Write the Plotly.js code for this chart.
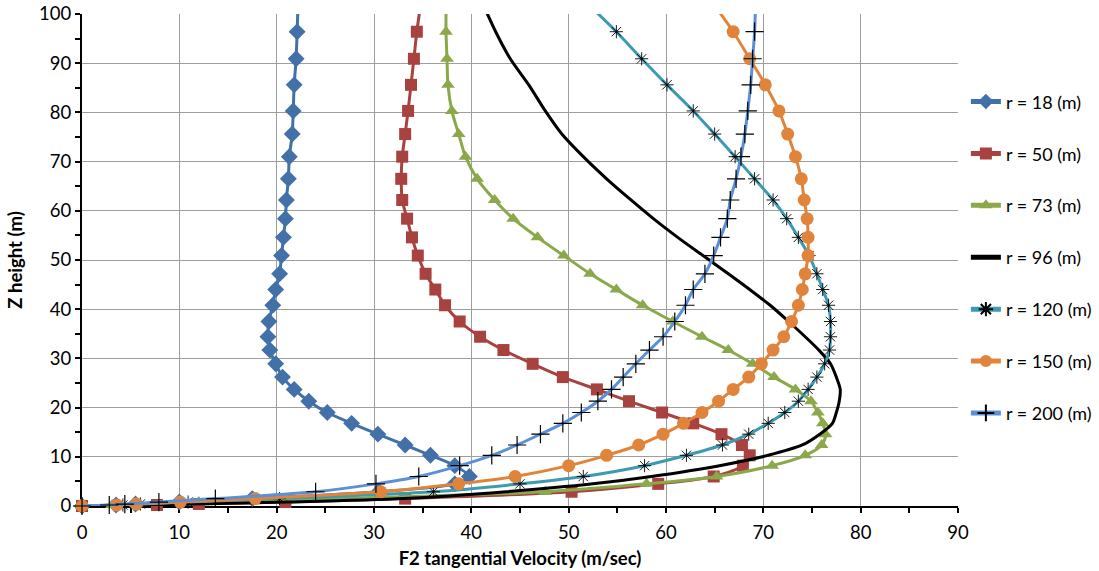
<!DOCTYPE html>
<html>
<head>
<meta charset="utf-8">
<script src="https://cdn.plot.ly/plotly-3.0.1.min.js"></script>
<style>
html,body{margin:0;padding:0;background:#fff;}
#chart{width:1099px;height:571px;}
</style>
</head>
<body>
<div id="chart"></div>
<script>
// Z levels (m) shared by all series (last level lies above the axis range, line only)
const zLevels = [0, 0.2, 0.4, 0.8, 1.5, 2.9, 4.5, 6.0, 8.2, 10.3, 12.4, 14.6, 16.8, 19.0, 21.3, 23.7, 26.2, 28.9, 31.7, 34.4, 37.5, 40.8, 44.0, 47.2, 50.9, 54.6, 58.4, 62.2, 66.5, 71.0, 75.6, 80.3, 85.6, 90.9, 96.4, 102];

// F2 tangential velocity (m/sec) per radius
const vR18  = [0, 3.5, 5.5, 10, 17.5, 30.5, 38.3, 39.8, 38.3, 35.8, 33.2, 30.4, 27.7, 25.2, 23.3, 21.8, 20.6, 19.9, 19.3, 19.1, 19.2, 19.6, 19.9, 20.3, 20.5, 20.7, 20.9, 21.0, 21.2, 21.3, 21.6, 21.7, 21.8, 22.0, 22.1, 22.2];
const vR50  = [0, 7.7, 12.0, 20.9, 33.2, 50.3, 59.2, 64.9, 67.9, 68.6, 67.8, 65.7, 62.8, 59.6, 56.2, 52.9, 49.4, 46.3, 43.3, 40.9, 38.8, 37.3, 36.3, 35.3, 34.5, 33.9, 33.4, 32.9, 32.8, 32.9, 33.2, 33.5, 33.8, 34.1, 34.4, 34.8];
const vR73  = [0, 3.1, 5.6, 12.0, 26.6, 47.6, 58.0, 65.2, 70.9, 74.3, 76.0, 76.4, 76.1, 75.6, 74.9, 73.3, 71.1, 68.9, 66.4, 63.7, 60.7, 57.6, 54.9, 52.2, 49.5, 46.8, 44.3, 42.4, 40.6, 39.4, 38.7, 38.0, 37.6, 37.5, 37.4, 37.4];
const vR96  = [0, 6, 11, 21, 33, 43.6, 52.5, 58.5, 65.5, 70.5, 74.0, 75.8, 77.1, 77.5, 77.8, 77.9, 77.5, 76.9, 75.7, 74.3, 72.6, 70.7, 68.6, 66.4, 63.8, 61.2, 58.7, 56.4, 53.9, 51.5, 49.3, 47.6, 45.9, 44.0, 42.5, 41.2];
const vR120 = [0, 4.2, 6.0, 10.9, 20.3, 36.1, 45.0, 51.5, 57.8, 62.1, 65.8, 68.5, 70.5, 72.2, 73.6, 74.6, 75.5, 76.3, 76.8, 76.9, 76.9, 76.7, 76.1, 75.5, 74.7, 73.6, 72.4, 71.0, 69.1, 67.1, 65.0, 62.8, 60.1, 57.5, 54.9, 52.0];
const vR150 = [0, 3.6, 5.6, 10.1, 17.8, 30.7, 38.7, 44.5, 50.0, 53.9, 57.2, 59.7, 61.8, 63.7, 65.4, 66.9, 68.5, 69.8, 71.0, 72.1, 72.9, 73.6, 74.0, 74.3, 74.6, 74.6, 74.5, 74.2, 73.9, 73.3, 72.5, 71.6, 70.2, 68.6, 66.9, 64.9];
const vR200 = [0, 2.8, 4.4, 7.9, 13.7, 24.0, 30.2, 34.6, 38.8, 42.1, 44.7, 47.1, 49.4, 51.3, 53.0, 54.4, 55.6, 56.9, 58.3, 59.7, 60.9, 62.0, 62.8, 64.0, 64.9, 65.6, 66.3, 66.6, 67.2, 67.7, 68.1, 68.4, 68.7, 68.9, 69.1, 69.2];

const seriesNames = ['r = 18 (m)', 'r = 50 (m)', 'r = 73 (m)', 'r = 96 (m)', 'r = 120 (m)', 'r = 150 (m)', 'r = 200 (m)'];
const xTicks = [0, 10, 20, 30, 40, 50, 60, 70, 80, 90];
const yTicks = [0, 10, 20, 30, 40, 50, 60, 70, 80, 90, 100];

const seriesValues = [vR18, vR50, vR73, vR96, vR120, vR150, vR200];
const styles = [
  {color:'#4270A8', symbol:'diamond', size:13, mcolor:'#4270A8', mline:0},
  {color:'#A8423F', symbol:'square', size:12, mcolor:'#A8423F', mline:0},
  {color:'#8BA84B', symbol:'triangle-up', size:12, mcolor:'#8BA84B', mline:0},
  {color:'#000000', symbol:null},
  {color:'#3D9AB1', symbol:'asterisk-open', size:11, mcolor:'#000000', mline:0.9},
  {color:'#E0843C', symbol:'circle', size:13, mcolor:'#E0843C', mline:0},
  {color:'#5A90D6', symbol:'cross-thin-open', size:13, mcolor:'#000000', mline:1.2}
];

function markerSizes(n, s){ const a = []; for(let i=0;i<n;i++){ a.push(i===n-1?0:s); } return a; }

const traces = seriesValues.map((vals, i) => {
  const st = styles[i];
  const t = {
    type:'scatter', x: vals, y: zLevels, name: seriesNames[i],
    legendgroup: 'g'+i,
    line:{color: st.color, width: 3, shape:'spline', smoothing:0.8},
    cliponaxis:false
  };
  if (st.symbol){
    t.mode = 'lines+markers';
    t.marker = {symbol: st.symbol, size: markerSizes(vals.length, st.size), sizemode:'diameter', opacity:1,
                color: st.mcolor, line:{width: st.mline, color: st.mcolor}};
  } else {
    t.mode = 'lines';
  }
  return t;
});

const fontFam = 'Lato, "Liberation Sans", Arial, sans-serif';

const layout = {
  width:1099, height:571,
  margin:{l:82, r:141, t:14, b:65, autoexpand:false},
  paper_bgcolor:'#ffffff', plot_bgcolor:'#ffffff',
  font:{family: fontFam, color:'#000', size:18},
  showlegend:true,
  legend:{x:1.009, xanchor:'left', y:0.859, yanchor:'top', tracegroupgap:25.5,
          font:{family: fontFam, size:18, color:'#000'}, bgcolor:'rgba(0,0,0,0)', itemwidth:30, itemsizing:'constant'},
  xaxis:{
    range:[0,90], tickvals:xTicks, ticktext:xTicks.map(String),
    showgrid:true, gridcolor:'#9E9E9E', gridwidth:1,
    showline:true, linecolor:'#000', linewidth:2, zeroline:false,
    ticks:'outside', ticklen:5, tickwidth:2, tickcolor:'#000', ticklabelstandoff:4,
    minor:{dtick:5, tick0:0, ticks:'outside', ticklen:5, tickwidth:2, tickcolor:'#000', showgrid:false},
    tickfont:{family: fontFam, size:18.5, color:'#000'},
    title:{text:'<b>F2 tangential Velocity (m/sec)</b>', font:{family: fontFam, size:18.5, color:'#000'}, standoff:10},
    layer:'below traces', fixedrange:true, automargin:false
  },
  yaxis:{
    range:[0,100], tickvals:yTicks, ticktext:yTicks.map(String),
    showgrid:true, gridcolor:'#9E9E9E', gridwidth:1,
    showline:true, linecolor:'#000', linewidth:2, zeroline:false,
    ticks:'outside', ticklen:5, tickwidth:2, tickcolor:'#000',
    minor:{dtick:5, tick0:0, ticks:'outside', ticklen:5, tickwidth:2, tickcolor:'#000', showgrid:false},
    tickfont:{family: fontFam, size:18.5, color:'#000'},
    title:{text:'<b>Z height (m)</b>', font:{family: fontFam, size:18.5, color:'#000'}, standoff:12},
    layer:'below traces', fixedrange:true, automargin:false
  }
};

Plotly.newPlot('chart', traces, layout, {displayModeBar:false, staticPlot:true});
</script>
</body>
</html>
